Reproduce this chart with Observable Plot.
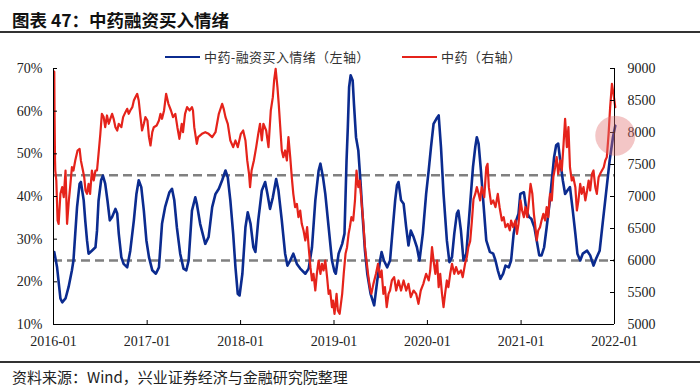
<!DOCTYPE html>
<html><head><meta charset="utf-8">
<script src="https://cdn.jsdelivr.net/npm/d3@7"></script>
<script src="https://cdn.jsdelivr.net/npm/@observablehq/plot@0.6"></script>
<style>
body{margin:0;background:#fff;}
#wrap{position:relative;width:700px;height:386px;overflow:hidden;background:#fff;font-family:"Noto Sans CJK SC","Noto Sans",sans-serif;}
.abs{position:absolute;}
#title{left:12px;top:8px;font-size:17.5px;font-weight:bold;line-height:24px;color:#111;white-space:nowrap;}
.rule{left:0;width:700px;height:1.5px;background:#333;}
#chart{left:0;top:33px;}
#chart svg text{font-family:"Liberation Serif","Times New Roman",serif !important;font-size:14px;fill:#222;}
.leg{font-size:13px;letter-spacing:0.4px;color:#333;line-height:16px;white-space:nowrap;display:flex;align-items:center;}
.leg .ln{display:inline-block;width:35px;height:2.6px;margin-right:4px;}
#foot{left:12px;top:368px;font-size:15px;line-height:17px;color:#222;white-space:nowrap;}
</style></head>
<body>
<div id="wrap">
  <div id="title" class="abs">图表 47：中药融资买入情绪</div>
  <div class="abs rule" style="top:31px"></div>
  <div id="chart" class="abs"></div>
  <div class="abs leg" style="left:165px;top:49px"><span class="ln" style="background:#0b2b8f"></span>中药-融资买入情绪（左轴）</div>
  <div class="abs leg" style="left:402px;top:49px"><span class="ln" style="background:#e5231b"></span>中药（右轴）</div>
  <div class="abs rule" style="top:361px"></div>
  <div id="foot" class="abs">资料来源：Wind，兴业证券经济与金融研究院整理</div>
</div>
<script>
const xTickLabels = ["2016-01","2017-01","2018-01","2019-01","2020-01","2021-01","2022-01"];
const leftTicks = [10,20,30,40,50,60,70];
const rightTicks = [5000,5500,6000,6500,7000,7500,8000,8500,9000];
const bandLevels = [25,45];
const highlightDates = ["2022-01-04"];
const highlightValues = [7950];

const blueDates = ["2016-01-04","2016-01-15","2016-01-28","2016-02-04","2016-02-17","2016-02-29","2016-03-13","2016-03-19","2016-03-26","2016-04-02","2016-04-12","2016-04-17","2016-04-28","2016-05-04","2016-05-11","2016-05-17","2016-05-30","2016-06-13","2016-06-19","2016-06-25","2016-07-05","2016-07-12","2016-07-21","2016-07-30","2016-08-08","2016-08-17","2016-08-30","2016-09-06","2016-09-12","2016-09-22","2016-10-01","2016-10-15","2016-10-27","2016-11-10","2016-11-20","2016-11-29","2016-12-09","2016-12-19","2016-12-29","2017-01-08","2017-01-21","2017-02-04","2017-02-16","2017-02-28","2017-03-12","2017-03-29","2017-04-08","2017-04-17","2017-04-27","2017-05-10","2017-05-23","2017-06-03","2017-06-12","2017-06-25","2017-07-08","2017-07-14","2017-07-27","2017-08-16","2017-08-29","2017-09-12","2017-09-25","2017-10-08","2017-10-21","2017-11-03","2017-11-12","2017-11-22","2017-12-03","2017-12-12","2017-12-21","2017-12-28","2018-01-08","2018-01-20","2018-01-29","2018-02-09","2018-02-20","2018-02-28","2018-03-11","2018-03-25","2018-04-07","2018-04-16","2018-04-26","2018-05-07","2018-05-20","2018-05-29","2018-06-11","2018-06-24","2018-07-03","2018-07-14","2018-07-26","2018-08-09","2018-08-22","2018-09-11","2018-09-24","2018-10-07","2018-10-20","2018-11-02","2018-11-09","2018-11-19","2018-11-28","2018-12-11","2018-12-24","2019-01-03","2019-01-08","2019-01-19","2019-02-02","2019-02-11","2019-02-19","2019-02-24","2019-03-01","2019-03-07","2019-03-15","2019-03-20","2019-03-28","2019-04-06","2019-04-15","2019-04-23","2019-05-02","2019-05-11","2019-05-24","2019-06-07","2019-06-19","2019-06-30","2019-07-06","2019-07-15","2019-07-28","2019-08-08","2019-08-19","2019-08-28","2019-09-04","2019-09-10","2019-09-20","2019-09-30","2019-10-10","2019-10-19","2019-10-28","2019-11-08","2019-11-21","2019-12-01","2019-12-14","2019-12-27","2020-01-06","2020-01-15","2020-01-25","2020-02-05","2020-02-14","2020-02-23","2020-03-04","2020-03-17","2020-03-27","2020-04-06","2020-04-15","2020-04-25","2020-05-01","2020-05-11","2020-05-21","2020-06-01","2020-06-14","2020-06-27","2020-07-06","2020-07-12","2020-07-19","2020-07-28","2020-08-08","2020-08-18","2020-09-01","2020-09-14","2020-09-23","2020-10-02","2020-10-12","2020-10-23","2020-11-01","2020-11-14","2020-11-23","2020-12-03","2020-12-13","2020-12-22","2020-12-29","2021-01-12","2021-01-22","2021-02-01","2021-02-10","2021-02-22","2021-03-03","2021-03-13","2021-03-22","2021-04-01","2021-04-11","2021-04-22","2021-05-01","2021-05-10","2021-05-18","2021-05-26","2021-06-03","2021-06-13","2021-06-22","2021-07-01","2021-07-11","2021-07-22","2021-08-01","2021-08-09","2021-08-20","2021-08-30","2021-09-16","2021-09-28","2021-10-11","2021-10-21","2021-11-04","2021-11-17","2021-11-30","2021-12-13","2021-12-26","2022-01-04"];
const blueValues = [27.0,23.4,16.1,15.2,16.1,18.8,22.7,25.0,31.3,37.5,43.0,43.4,39.1,34.4,29.7,26.6,27.3,28.1,32.0,39.0,43.8,44.9,43.0,39.0,34.4,35.2,37.1,36.0,31.3,25.8,24.2,23.4,27.3,34.4,40.6,43.8,42.2,36.7,29.7,25.8,22.7,21.9,23.4,33.6,37.5,41.0,41.8,39.1,32.8,26.6,23.1,22.7,25.0,36.7,39.8,38.3,33.6,28.9,30.5,37.5,40.6,41.8,43.8,46.1,44.5,39.1,31.3,23.4,17.2,16.8,21.9,32.8,36.3,33.6,28.1,27.0,34.4,41.4,43.4,40.6,37.1,39.8,44.1,41.4,34.4,26.6,23.8,25.0,26.6,24.2,23.1,21.9,23.1,28.1,39.1,46.1,47.7,44.5,40.6,32.8,25.0,22.4,21.9,26.6,28.9,31.3,48.4,56.2,65.6,68.4,67.2,61.7,53.9,50.8,43.0,35.2,27.3,21.9,17.2,14.5,20.3,25.0,27.0,25.0,23.4,25.0,32.8,39.1,42.6,43.4,39.1,38.3,32.8,28.5,32.0,30.5,28.1,25.0,31.3,40.6,46.1,51.6,57.0,58.2,59.0,51.6,40.6,29.7,24.6,25.8,31.3,36.0,36.7,32.0,25.0,26.6,36.7,46.9,51.6,53.9,52.4,46.1,37.5,29.7,27.0,26.6,25.0,22.7,20.7,21.9,23.8,23.4,25.0,31.3,34.4,36.0,40.6,41.0,36.7,35.2,34.8,32.8,29.7,26.2,26.2,28.1,32.8,38.3,43.8,49.2,52.0,52.4,48.4,43.8,40.6,41.4,42.2,36.7,31.3,26.6,25.0,26.6,27.3,26.2,23.8,25.4,27.3,34.4,41.4,48.4,53.9,56.6];

const redDates = ["2016-01-04","2016-01-05","2016-01-07","2016-01-08","2016-01-12","2016-01-17","2016-01-21","2016-01-28","2016-02-04","2016-02-10","2016-02-17","2016-02-23","2016-03-01","2016-03-06","2016-03-13","2016-03-19","2016-03-26","2016-04-04","2016-04-12","2016-04-17","2016-04-25","2016-04-30","2016-05-05","2016-05-11","2016-05-17","2016-05-23","2016-05-30","2016-06-06","2016-06-13","2016-06-19","2016-06-25","2016-07-02","2016-07-08","2016-07-15","2016-07-21","2016-07-28","2016-08-04","2016-08-10","2016-08-17","2016-08-23","2016-08-30","2016-09-06","2016-09-12","2016-09-22","2016-09-29","2016-10-08","2016-10-15","2016-10-21","2016-10-27","2016-11-04","2016-11-10","2016-11-16","2016-11-23","2016-11-29","2016-12-06","2016-12-12","2016-12-19","2016-12-25","2017-01-02","2017-01-08","2017-01-14","2017-01-21","2017-01-27","2017-02-07","2017-02-16","2017-02-22","2017-02-28","2017-03-08","2017-03-16","2017-03-25","2017-04-04","2017-04-12","2017-04-21","2017-04-29","2017-05-07","2017-05-16","2017-05-21","2017-05-29","2017-06-06","2017-06-16","2017-06-25","2017-06-29","2017-07-04","2017-07-14","2017-07-19","2017-08-03","2017-08-16","2017-08-29","2017-09-12","2017-09-25","2017-10-08","2017-10-21","2017-10-27","2017-11-03","2017-11-12","2017-11-22","2017-12-03","2017-12-12","2017-12-21","2018-01-02","2018-01-11","2018-01-20","2018-01-27","2018-02-03","2018-02-07","2018-02-13","2018-02-22","2018-03-03","2018-03-11","2018-03-18","2018-03-25","2018-03-31","2018-04-11","2018-04-20","2018-04-29","2018-05-07","2018-05-12","2018-05-18","2018-05-25","2018-05-30","2018-06-05","2018-06-11","2018-06-17","2018-06-24","2018-07-01","2018-07-07","2018-07-14","2018-07-20","2018-07-26","2018-08-02","2018-08-09","2018-08-15","2018-08-22","2018-08-28","2018-09-04","2018-09-11","2018-09-18","2018-09-24","2018-10-01","2018-10-07","2018-10-13","2018-10-20","2018-10-26","2018-11-02","2018-11-09","2018-11-15","2018-11-21","2018-11-28","2018-12-05","2018-12-11","2018-12-17","2018-12-24","2018-12-28","2019-01-03","2019-01-11","2019-01-16","2019-01-23","2019-02-02","2019-02-08","2019-02-15","2019-02-21","2019-02-27","2019-03-04","2019-03-10","2019-03-17","2019-03-24","2019-03-30","2019-04-06","2019-04-12","2019-04-18","2019-04-25","2019-05-02","2019-05-08","2019-05-14","2019-05-21","2019-05-27","2019-06-04","2019-06-14","2019-06-22","2019-06-30","2019-07-06","2019-07-13","2019-07-19","2019-07-26","2019-08-02","2019-08-08","2019-08-15","2019-08-24","2019-09-01","2019-09-10","2019-09-20","2019-09-30","2019-10-10","2019-10-19","2019-10-28","2019-11-08","2019-11-18","2019-11-27","2019-12-06","2019-12-16","2019-12-27","2020-01-06","2020-01-12","2020-01-19","2020-01-25","2020-02-01","2020-02-08","2020-02-14","2020-02-20","2020-02-27","2020-03-04","2020-03-10","2020-03-17","2020-03-23","2020-03-30","2020-04-06","2020-04-15","2020-04-22","2020-05-01","2020-05-11","2020-05-18","2020-05-27","2020-06-03","2020-06-09","2020-06-16","2020-06-23","2020-06-29","2020-07-06","2020-07-12","2020-07-19","2020-07-25","2020-07-31","2020-08-10","2020-08-18","2020-08-23","2020-08-28","2020-09-06","2020-09-14","2020-09-23","2020-10-02","2020-10-09","2020-10-18","2020-10-25","2020-11-01","2020-11-10","2020-11-18","2020-11-23","2020-12-01","2020-12-10","2020-12-16","2020-12-22","2020-12-30","2021-01-05","2021-01-12","2021-01-18","2021-01-25","2021-02-01","2021-02-07","2021-02-14","2021-02-20","2021-02-26","2021-03-03","2021-03-09","2021-03-16","2021-03-22","2021-03-29","2021-04-05","2021-04-11","2021-04-17","2021-04-24","2021-05-01","2021-05-07","2021-05-14","2021-05-20","2021-05-26","2021-06-03","2021-06-09","2021-06-16","2021-06-22","2021-06-29","2021-07-05","2021-07-11","2021-07-18","2021-07-24","2021-08-01","2021-08-07","2021-08-13","2021-08-20","2021-08-26","2021-09-02","2021-09-09","2021-09-16","2021-09-22","2021-09-28","2021-10-05","2021-10-11","2021-10-18","2021-10-24","2021-10-31","2021-11-06","2021-11-13","2021-11-20","2021-11-26","2021-12-02","2021-12-09","2021-12-15","2021-12-22","2021-12-28","2022-01-04"];
const redValues = [8950,8340,7560,7406,7250,6625,6573,7042,7146,6990,7406,6573,6938,7146,7458,7406,7563,7719,7745,7563,7406,7302,7094,7042,7198,7042,7406,7250,7406,7406,7667,7979,8292,8240,8083,8266,8136,8214,8292,8214,8083,8031,8136,8083,8240,8318,8370,8292,8344,8396,8500,8552,8604,8500,8240,8031,8136,8240,8188,7927,7797,8005,8083,8109,8188,8292,8214,8344,8604,8448,8344,8240,8292,8083,7901,8136,8005,8292,8396,8344,8396,8344,8083,7823,7927,7979,8005,7979,7927,8005,8292,8448,8370,8240,8136,7875,7771,7875,7771,7979,8031,7875,7563,7354,7146,7406,7563,7771,7979,8136,7875,8136,8031,7771,8344,8552,8813,8995,8708,8448,8083,7719,7615,7719,7563,7927,7615,7302,7042,6833,6885,6677,6781,6573,6469,6313,6521,6208,5896,5688,5792,5531,5792,6000,5792,5948,5844,6000,5740,5479,5531,5271,5375,5167,5479,5219,5167,5479,5792,6104,6208,6417,6521,6677,6625,6938,7406,7146,7250,6938,6625,6208,6000,5792,5583,5479,5635,5792,5948,5740,5844,5479,5583,5271,5479,5531,5688,5740,5531,5688,5531,5688,5531,5635,5427,5531,5479,5323,5531,5635,5792,5688,5844,6208,6000,5792,6000,5583,5792,5479,5271,5479,5688,5583,5792,5948,5792,5896,5792,5844,5740,5948,6052,6208,6300,6625,6960,7040,7146,7042,6938,7146,6990,7458,7510,7146,6885,6938,6833,7042,6833,6625,6677,6521,6573,6469,6625,6521,6625,6417,6573,6938,6781,6677,6833,6677,6938,7198,7042,6729,6521,6313,6469,6521,6625,6729,6625,6833,6677,7042,6938,7302,7458,7615,7354,7563,7406,7823,8214,7771,8083,7458,7250,7302,7146,6781,6938,7198,7042,7146,6938,7094,7250,7094,7354,7406,7146,7042,7302,7354,7406,7458,7563,7615,7979,8396,8760,8604,8396];

const parse = d3.utcParse("%Y-%m-%d");
const L0 = leftTicks[0], L1 = leftTicks[leftTicks.length - 1];
const R0 = rightTicks[0], R1 = rightTicks[rightTicks.length - 1];
const toLeft = p => L0 + (p - R0) * (L1 - L0) / (R1 - R0);
const fromLeft = v => R0 + (v - L0) * (R1 - R0) / (L1 - L0);

const blue = blueDates.map((d, i) => ({date: parse(d), value: blueValues[i]}));
const red = redDates.map((d, i) => ({date: parse(d), value: toLeft(redValues[i])}));
const hl = highlightDates.map((d, i) => ({date: parse(d), value: toLeft(highlightValues[i])}));
const xTicks = xTickLabels.map(s => parse(s + "-01"));

const W = 700, H = 328, mT = 35, mB = 37, mL = 53, mR = 86;
const plotW = W - mL - mR, plotH = H - mT - mB;

const chart = Plot.plot({
  width: W, height: H, marginTop: mT, marginBottom: mB, marginLeft: mL, marginRight: mR,
  style: {fontFamily: "'Liberation Serif','Times New Roman',serif", fontSize: "14px", color: "#222", background: "transparent", overflow: "visible"},
  x: {type: "utc", domain: [xTicks[0], xTicks[xTicks.length - 1]]},
  y: {domain: [L0, L1]},
  marks: [
    Plot.ruleY(bandLevels, {y: d => d, stroke: "#808080", strokeWidth: 2.5, strokeDasharray: "9,5"}),
    Plot.lineY(blue, {x: "date", y: "value", stroke: "#0b2b8f", strokeWidth: 2.6}),
    Plot.lineY(red, {x: "date", y: "value", stroke: "#e5231b", strokeWidth: 2.2}),
    Plot.ruleX([xTicks[0]], {x: d => d, stroke: "#000"}),
    Plot.ruleX([xTicks[xTicks.length - 1]], {x: d => d, stroke: "#000"}),
    Plot.ruleY([L0], {y: d => d, stroke: "#000"}),
    Plot.tickY(leftTicks, {y: d => d, stroke: "#000", insetRight: plotW - 4}),
    Plot.tickY(rightTicks.map(toLeft), {y: d => d, stroke: "#000", insetLeft: plotW - 4}),
    Plot.tickX(xTicks, {x: d => d, stroke: "#000", insetTop: plotH - 4}),
    Plot.axisY({ticks: leftTicks, tickSize: 0, tickPadding: 11, tickFormat: d => d + "%", label: null}),
    Plot.axisY({anchor: "right", ticks: rightTicks.map(toLeft), tickSize: 0, tickPadding: 13, tickFormat: d => String(Math.round(fromLeft(d))), label: null}),
    Plot.axisX({ticks: xTicks, tickSize: 0, tickPadding: 12, tickFormat: d3.utcFormat("%Y-%m"), label: null}),
    Plot.dot(hl, {x: "date", y: "value", r: 20, fill: "#e07070", fillOpacity: 0.4, stroke: null})
  ]
});
document.getElementById("chart").appendChild(chart);
</script>
</body></html>
